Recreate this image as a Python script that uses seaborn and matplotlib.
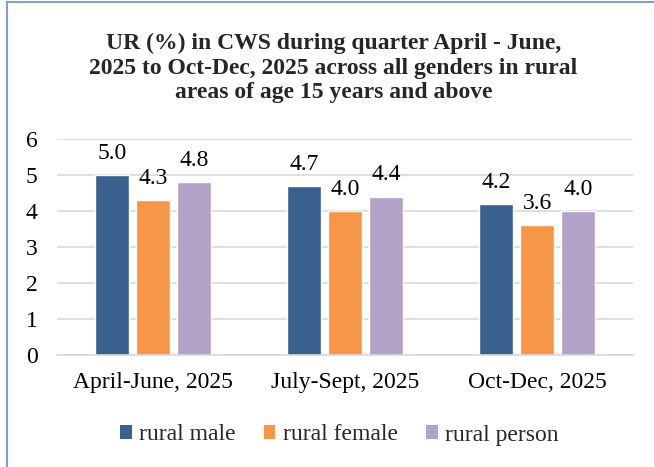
import matplotlib
matplotlib.use("Agg")
import matplotlib.pyplot as plt
import seaborn as sns
import pandas as pd
from matplotlib.lines import Line2D
from matplotlib.patches import Patch

categories = ["April-June, 2025", "July-Sept, 2025", "Oct-Dec, 2025"]
series_names = ["rural male", "rural female", "rural person"]
rural_male = [5.0, 4.7, 4.2]
rural_female = [4.3, 4.0, 3.6]
rural_person = [4.8, 4.4, 4.0]
colors = ["#3A6090", "#F79646", "#B3A2C7"]
title = ("UR (%) in CWS during quarter April - June,\n"
         "2025 to Oct-Dec, 2025 across all genders in rural\n"
         "areas of age 15 years and above")

rows = []
for name, vals in zip(series_names, [rural_male, rural_female, rural_person]):
    for c, v in zip(categories, vals):
        rows.append({"quarter": c, "series": name, "value": v})
df = pd.DataFrame(rows)

sns.set_theme(style="white")
plt.rcParams["font.family"] = ["Liberation Serif", "DejaVu Serif"]

fig = plt.figure(figsize=(6.54, 4.67), dpi=100)
ax = fig.add_axes([57/654, (467-355)/467, (633-57)/654, (355-139)/467])

sns.barplot(data=df, x="quarter", y="value", hue="series", order=categories,
            hue_order=series_names, palette=colors, width=0.64, gap=0.15,
            saturation=1, ax=ax, legend=False, errorbar=None)

for cont in ax.containers:
    ax.bar_label(cont, fmt="%.1f", padding=8, fontsize=17, color="#000000")

ax.set_ylim(0, 6)
ax.set_yticks(range(0, 7))
ax.yaxis.grid(True, color="#D9D9D9", linewidth=1.2)
ax.set_axisbelow(True)
for s in ["top", "right", "left"]:
    ax.spines[s].set_visible(False)
ax.spines["bottom"].set_color("#D9D9D9")
ax.spines["bottom"].set_linewidth(1.2)
ax.tick_params(axis="both", length=0, labelsize=17, colors="#000000")
ax.tick_params(axis="y", pad=14)
ax.tick_params(axis="x", pad=12)
ax.set_xlabel("")
ax.set_ylabel("")

fig.text(0.51, 1 - 68/467, title, ha="center", va="center", fontsize=17,
         fontweight="bold", linespacing=1.2)

handles = [Patch(facecolor=c, edgecolor="none") for c in colors]
fig.legend(handles, series_names, loc="center", bbox_to_anchor=(339/654, 1 - 435/467),
           ncol=3, frameon=False, fontsize=17, handlelength=0.5,
           handleheight=0.5, handletextpad=0.3, columnspacing=1.2)

border = "#7F9FCF"
fig.add_artist(Line2D([7/654, 7/654], [0, 1 - 2/467], transform=fig.transFigure,
                      color=border, linewidth=1.5))
fig.add_artist(Line2D([7/654, 1], [1 - 2/467, 1 - 2/467], transform=fig.transFigure,
                      color=border, linewidth=1.5))

fig.savefig("out.png", dpi=100)
